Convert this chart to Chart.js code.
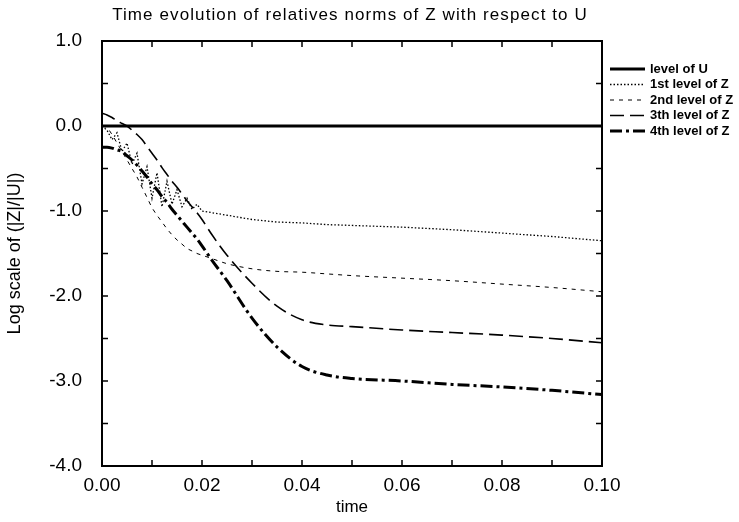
<!DOCTYPE html>
<html>
<head>
<meta charset="utf-8">
<script src="https://cdn.jsdelivr.net/npm/chart.js@4.4.1/dist/chart.umd.min.js"></script>
<style>
  html, body { margin: 0; padding: 0; background: #fff; }
</style>
</head>
<body>
<canvas id="normChart" width="739" height="522"></canvas>
<script>
const times = [0, 0.001, 0.002, 0.003, 0.004, 0.005, 0.006, 0.007, 0.008, 0.009, 0.010,
    0.011, 0.012, 0.013, 0.014, 0.015, 0.016, 0.017, 0.018, 0.019, 0.020,
    0.022, 0.025, 0.03, 0.035, 0.04, 0.045, 0.05, 0.06, 0.07, 0.08, 0.09, 0.1];

const levelU = [0, 0, 0, 0, 0, 0, 0, 0, 0, 0, 0,
    0, 0, 0, 0, 0, 0, 0, 0, 0, 0,
    0, 0, 0, 0, 0, 0, 0, 0, 0, 0, 0, 0];

const level1Z = [0, -0.05, -0.16, -0.08, -0.3, -0.2, -0.45, -0.32, -0.68, -0.48, -0.85,
    -0.55, -0.95, -0.65, -0.92, -0.75, -0.95, -0.85, -0.98, -0.92, -1.0,
    -1.02, -1.05, -1.1, -1.13, -1.14, -1.16, -1.17, -1.19, -1.22, -1.26, -1.3, -1.35];

const level2Z = [0, -0.02, -0.1, -0.2, -0.3, -0.4, -0.5, -0.6, -0.72, -0.84, -0.96,
    -1.05, -1.13, -1.21, -1.28, -1.34, -1.39, -1.44, -1.47, -1.5, -1.52,
    -1.56, -1.62, -1.68, -1.71, -1.72, -1.74, -1.76, -1.79, -1.82, -1.86, -1.9, -1.95];

const level3Z = [0.15, 0.13, 0.1, 0.06, 0.03, 0, -0.05, -0.1, -0.16, -0.24, -0.32,
    -0.4, -0.49, -0.57, -0.65, -0.72, -0.8, -0.88, -0.95, -1.02, -1.1,
    -1.28, -1.52, -1.85, -2.12, -2.28, -2.34, -2.36, -2.4, -2.43, -2.46, -2.5, -2.55];

const level4Z = [-0.25, -0.25, -0.26, -0.28, -0.3, -0.35, -0.4, -0.46, -0.53, -0.6, -0.68,
    -0.75, -0.83, -0.9, -0.98, -1.05, -1.12, -1.19, -1.26, -1.33, -1.41,
    -1.58, -1.82, -2.26, -2.6, -2.83, -2.93, -2.97, -3.0, -3.04, -3.07, -3.11, -3.16];

const seriesLabels = ['level of U', '1st level of Z', '2nd level of Z', '3th level of Z', '4th level of Z'];

const chartTitle = 'Time evolution of relatives norms of Z with respect to U';

const FONT = '"Liberation Sans", Arial, sans-serif';

function toPoints(values) {
    return times.map((t, i) => ({ x: t, y: values[i] }));
}

// title, box frame with inward ticks, and the legend drawn beside the plot
const framePlugin = {
    id: 'frame',
    afterDraw(chart) {
        const ctx = chart.ctx;
        const area = chart.chartArea;
        const xs = chart.scales.x;
        const ys = chart.scales.y;

        ctx.save();
        ctx.fillStyle = '#000';
        ctx.font = '17px ' + FONT;
        ctx.letterSpacing = '1.1px';
        ctx.textAlign = 'center';
        ctx.textBaseline = 'middle';
        ctx.fillText(chartTitle, 350, 15);
        ctx.letterSpacing = '0px';

        ctx.strokeStyle = '#000';
        ctx.lineWidth = 2;
        ctx.strokeRect(area.left, area.top, area.right - area.left, area.bottom - area.top);

        ctx.lineWidth = 1.5;
        for (let i = 0; i <= 10; i++) {
            const px = xs.getPixelForValue(i * 0.01);
            ctx.beginPath();
            ctx.moveTo(px, area.bottom);
            ctx.lineTo(px, area.bottom - 6);
            ctx.moveTo(px, area.top);
            ctx.lineTo(px, area.top + 6);
            ctx.stroke();
        }
        for (let i = 0; i <= 10; i++) {
            const py = ys.getPixelForValue(-4 + i * 0.5);
            ctx.beginPath();
            ctx.moveTo(area.left, py);
            ctx.lineTo(area.left + 6, py);
            ctx.moveTo(area.right, py);
            ctx.lineTo(area.right - 6, py);
            ctx.stroke();
        }

        // legend
        chart.data.datasets.forEach((ds, i) => {
            const y = 69 + i * 15.5;
            ctx.beginPath();
            ctx.setLineDash(ds.borderDash || []);
            ctx.lineWidth = ds.borderWidth;
            ctx.moveTo(610, y);
            ctx.lineTo(645, y);
            ctx.stroke();
            ctx.setLineDash([]);
            ctx.font = 'bold 13px ' + FONT;
            ctx.textAlign = 'left';
            ctx.fillText(ds.label, 650, y);
        });
        ctx.restore();
    }
};

const ctx = document.getElementById('normChart').getContext('2d');
const chartInstance = new Chart(ctx, {
    type: 'line',
    data: {
        datasets: [
            { label: seriesLabels[0], data: toPoints(levelU), borderColor: '#000', borderWidth: 3 },
            { label: seriesLabels[1], data: toPoints(level1Z), borderColor: '#000', borderWidth: 1.3, borderDash: [1.5, 2] },
            { label: seriesLabels[2], data: toPoints(level2Z), borderColor: '#000', borderWidth: 1, borderDash: [4, 5], cubicInterpolationMode: 'monotone' },
            { label: seriesLabels[3], data: toPoints(level3Z), borderColor: '#000', borderWidth: 1.6, borderDash: [14, 6], cubicInterpolationMode: 'monotone' },
            { label: seriesLabels[4], data: toPoints(level4Z), borderColor: '#000', borderWidth: 3, borderDash: [12, 4, 3, 4], cubicInterpolationMode: 'monotone' },
        ],
    },
    options: {
        responsive: false,
        animation: false,
        devicePixelRatio: 1,
        layout: { padding: { top: 41, right: 137, left: 0, bottom: 0 } },
        elements: { point: { radius: 0 }, line: { tension: 0 } },
        plugins: {
            legend: { display: false },
            title: { display: false },
            tooltip: { enabled: false },
        },
        scales: {
            x: {
                type: 'linear',
                min: 0,
                max: 0.1,
                afterFit: (s) => { s.height = 56; },
                grid: { display: false },
                border: { display: false },
                ticks: {
                    stepSize: 0.02,
                    color: '#000',
                    padding: 0,
                    font: { family: FONT, size: 19 },
                    callback: (v) => v.toFixed(2),
                },
                title: {
                    display: true,
                    text: 'time',
                    color: '#000',
                    padding: { top: 0 },
                    font: { family: FONT, size: 17 },
                },
            },
            y: {
                min: -4,
                max: 1,
                afterFit: (s) => { s.width = 102; },
                grid: { display: false },
                border: { display: false },
                ticks: {
                    stepSize: 1,
                    color: '#000',
                    padding: 12,
                    font: { family: FONT, size: 19 },
                    callback: (v) => v.toFixed(1),
                },
                title: {
                    display: true,
                    text: 'Log scale of (|Z|/|U|)',
                    color: '#000',
                    padding: { bottom: 2 },
                    font: { family: FONT, size: 18 },
                },
            },
        },
    },
    plugins: [framePlugin],
});
</script>
</body>
</html>
